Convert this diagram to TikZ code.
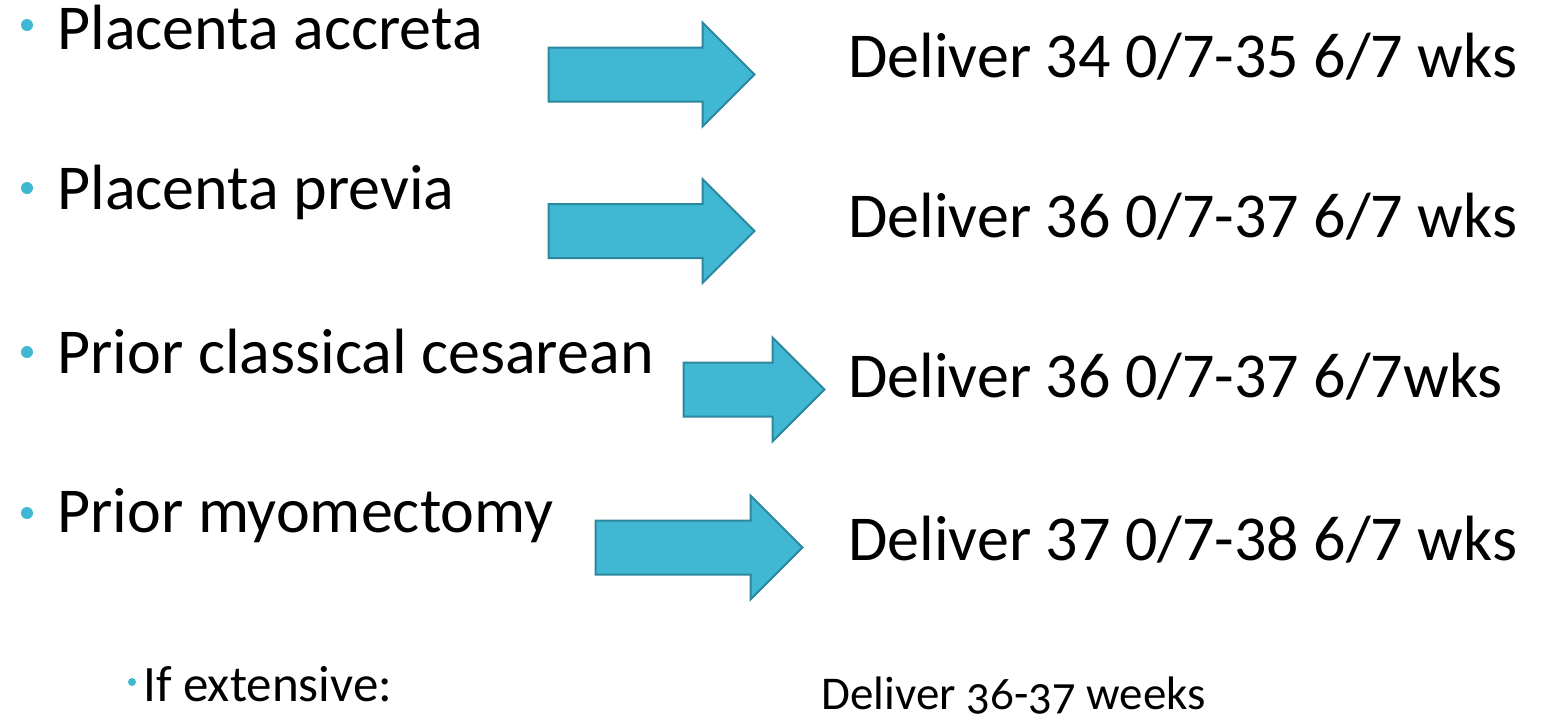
\documentclass[tikz,border=0pt]{standalone}
\usepackage{fontspec}
\setmainfont{Carlito}
\newfontfamily\oldnum{Carlito}[Numbers=OldStyle]
\usepackage{xcolor}
\usetikzlibrary{shapes.arrows}

\definecolor{arrowfill}{RGB}{65,184,211}
\definecolor{arrowline}{RGB}{44,135,158}
\definecolor{dotcolor}{RGB}{65,184,211}

\begin{document}
\begin{tikzpicture}[x=0.5pt, y=0.5pt,
    every node/.style={inner sep=0pt, anchor=base west},
    bigtext/.style={font=\fontsize{32}{38}\selectfont},
    dot/.style={circle, fill=dotcolor, minimum size=6pt, anchor=center},
    blockarrow/.style={single arrow, draw=arrowline, fill=arrowfill, line width=1pt,
        anchor=center, inner xsep=0pt, inner ysep=13pt, single arrow head extend=12.5pt,
        single arrow tip angle=90}]
    \useasboundingbox (0,0) rectangle (1544,-720);

    % Row 1: accreta
    \node[dot] (d1) at (27,-25) {};
    \node[bigtext] (c1) at (57,-49) {Placenta accreta};
    \node[blockarrow, minimum height=103pt] (a1) at (638,-74.5) {};
    \node[bigtext] (r1) at (848,-77) {Deliver 34 0/7-35 6/7 wks};

    % Row 2: previa
    \node[dot] (d2) at (27,-188) {};
    \node[bigtext] (c2) at (57,-209) {Placenta previa};
    \node[blockarrow, minimum height=103pt] (a2) at (638,-231) {};
    \node[bigtext] (r2) at (848,-237) {Deliver 36 0/7-37 6/7 wks};

    % Row 3: classical cesarean
    \node[dot] (d3) at (27,-352) {};
    \node[bigtext] (c3) at (57,-373) {Prior classical cesarean};
    \node[blockarrow, minimum height=70.5pt] (a3) at (740.5,-389.5) {};
    \node[bigtext] (r3) at (848,-397) {Deliver 36 0/7-37 6/7wks};

    % Row 4: myomectomy
    \node[dot] (d4) at (27,-513) {};
    \node[bigtext] (c4) at (57,-532) {Prior myomectomy};
    \node[blockarrow, minimum height=103.5pt] (a4) at (685.5,-547.5) {};
    \node[bigtext] (r4) at (848,-560) {Deliver 37 0/7-38 6/7 wks};

    % Sub point
    \node[dot, minimum size=4pt] (d5) at (132,-682) {};
    \node[font=\fontsize{25.5}{30}\selectfont] (c5) at (143,-701) {If extensive:};
    \node[font=\oldnum\fontsize{23.5}{28}\selectfont] (r5) at (821,-709) {Deliver 36-37 weeks};
\end{tikzpicture}
\end{document}
